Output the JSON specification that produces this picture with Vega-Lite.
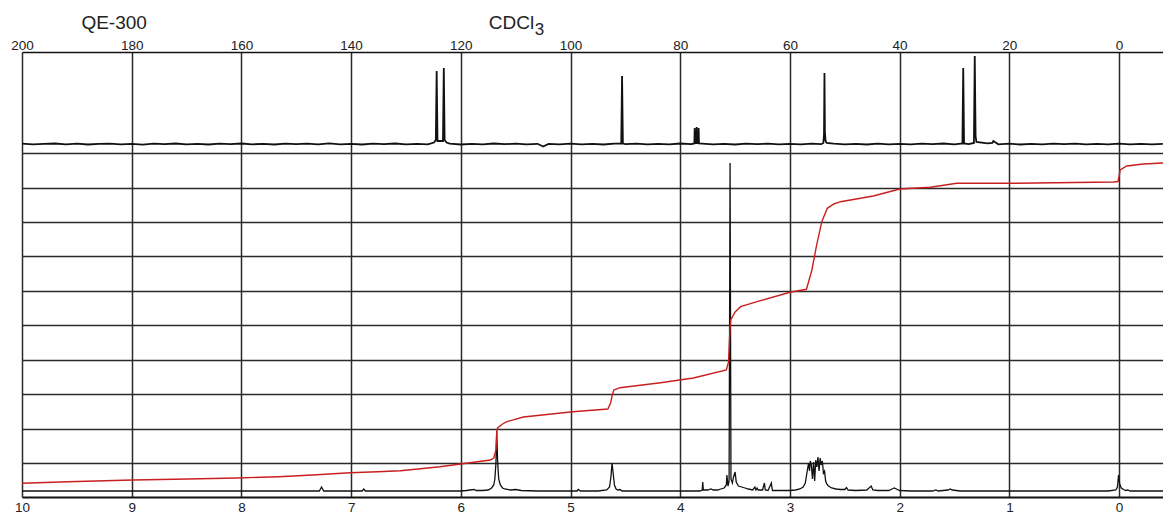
{
  "$schema": "https://vega.github.io/schema/vega-lite/v6.json",
  "width": 1141,
  "height": 445,
  "autosize": {"type": "none"},
  "padding": {"left": 22, "top": 52, "right": 0, "bottom": 17},
  "background": "white",
  "config": {
    "view": {"stroke": null},
    "font": "Liberation Sans",
    "axis": {"labelFont": "Liberation Sans", "labelColor": "#222", "labelFontSize": 13.5, "labelOverlap": false, "labelBound": false, "labelFlush": false}
  },
  "datasets": {
    "c13": [
      {"ppm": 200, "v": 0.3}, {"ppm": 198, "v": -0.4}, {"ppm": 196, "v": 0.2}, {"ppm": 194, "v": 0.5}, {"ppm": 192, "v": -0.3},
      {"ppm": 190, "v": 0.3}, {"ppm": 188, "v": -0.5}, {"ppm": 186, "v": 0.1}, {"ppm": 184, "v": 0.4}, {"ppm": 182, "v": -0.3},
      {"ppm": 180, "v": 0.2}, {"ppm": 178, "v": -0.6}, {"ppm": 176, "v": 0.4}, {"ppm": 174, "v": -0.2}, {"ppm": 172, "v": 0.5},
      {"ppm": 170, "v": -0.4}, {"ppm": 168, "v": 0.1}, {"ppm": 166, "v": -0.5}, {"ppm": 164, "v": 0.3}, {"ppm": 162, "v": -0.2},
      {"ppm": 160, "v": 0.5}, {"ppm": 158, "v": -0.3}, {"ppm": 156, "v": 0.2}, {"ppm": 154, "v": -0.5}, {"ppm": 152, "v": 0.4},
      {"ppm": 150, "v": -0.1}, {"ppm": 148, "v": 0.3}, {"ppm": 146, "v": -0.4}, {"ppm": 144, "v": 0.6}, {"ppm": 142, "v": -0.3},
      {"ppm": 140, "v": 0.2}, {"ppm": 138, "v": -0.5}, {"ppm": 136, "v": 0.4}, {"ppm": 134, "v": -0.2}, {"ppm": 132, "v": 0.5},
      {"ppm": 130, "v": -0.4}, {"ppm": 128, "v": 0.2}, {"ppm": 126, "v": -0.3},
      {"ppm": 124.9, "v": 1.5}, {"ppm": 124.55, "v": 4}, {"ppm": 124.4, "v": 73}, {"ppm": 124.25, "v": 3},
      {"ppm": 123.25, "v": 3}, {"ppm": 123.1, "v": 76}, {"ppm": 122.95, "v": 4}, {"ppm": 122.6, "v": 1.5},
      {"ppm": 122, "v": 0.4}, {"ppm": 120, "v": -0.5}, {"ppm": 118, "v": 0.2}, {"ppm": 116, "v": -0.3}, {"ppm": 114, "v": 0.5},
      {"ppm": 112, "v": -0.2}, {"ppm": 110, "v": 0.3}, {"ppm": 108, "v": -0.4}, {"ppm": 106, "v": 0.2}, {"ppm": 105, "v": -2.5},
      {"ppm": 104, "v": 0.1}, {"ppm": 102, "v": -0.4}, {"ppm": 100, "v": 0.4}, {"ppm": 98, "v": -0.3}, {"ppm": 96, "v": 0.2},
      {"ppm": 94, "v": -0.5}, {"ppm": 92, "v": 0.3},
      {"ppm": 90.75, "v": 0.5}, {"ppm": 90.6, "v": 68}, {"ppm": 90.45, "v": 0.5},
      {"ppm": 90, "v": -0.2}, {"ppm": 88, "v": 0.4}, {"ppm": 86, "v": -0.4}, {"ppm": 84, "v": 0.2}, {"ppm": 82, "v": -0.3},
      {"ppm": 80, "v": 0.5}, {"ppm": 78, "v": -0.2},
      {"ppm": 77.42, "v": 0.5}, {"ppm": 77.36, "v": 16}, {"ppm": 77.3, "v": 1}, {"ppm": 77.06, "v": 1}, {"ppm": 77.0, "v": 17},
      {"ppm": 76.94, "v": 1}, {"ppm": 76.7, "v": 1}, {"ppm": 76.64, "v": 16}, {"ppm": 76.58, "v": 0.5},
      {"ppm": 76, "v": 0.3}, {"ppm": 74, "v": -0.4}, {"ppm": 72, "v": 0.2}, {"ppm": 70, "v": -0.5}, {"ppm": 68, "v": 0.3},
      {"ppm": 66, "v": -0.2}, {"ppm": 64, "v": 0.4}, {"ppm": 62, "v": -0.3}, {"ppm": 60, "v": 0.2}, {"ppm": 58, "v": -0.4},
      {"ppm": 56, "v": 0.3}, {"ppm": 54.3, "v": -0.2},
      {"ppm": 53.9, "v": 1}, {"ppm": 53.78, "v": 10}, {"ppm": 53.7, "v": 71}, {"ppm": 53.62, "v": 12}, {"ppm": 53.5, "v": 3}, {"ppm": 53.3, "v": 1},
      {"ppm": 52, "v": 0.3}, {"ppm": 50, "v": -0.4}, {"ppm": 48, "v": 0.2}, {"ppm": 46, "v": -0.5}, {"ppm": 44, "v": 0.4},
      {"ppm": 42, "v": -0.3}, {"ppm": 40, "v": 0.2}, {"ppm": 38, "v": -0.4}, {"ppm": 36, "v": 0.3}, {"ppm": 34, "v": -0.2},
      {"ppm": 32, "v": 0.5}, {"ppm": 30, "v": -0.3},
      {"ppm": 28.55, "v": 0.5}, {"ppm": 28.4, "v": 76}, {"ppm": 28.25, "v": 0.5},
      {"ppm": 27.4, "v": -0.2},
      {"ppm": 26.45, "v": 1}, {"ppm": 26.3, "v": 88}, {"ppm": 26.15, "v": 8}, {"ppm": 26.0, "v": 2},
      {"ppm": 24, "v": 0.6}, {"ppm": 23.1, "v": 1}, {"ppm": 22.9, "v": 3}, {"ppm": 22.5, "v": 1.5}, {"ppm": 22, "v": -0.3},
      {"ppm": 20, "v": 0.3}, {"ppm": 18, "v": -0.5}, {"ppm": 16, "v": 0.2}, {"ppm": 14, "v": -0.3}, {"ppm": 12, "v": 0.4},
      {"ppm": 10, "v": -0.2}, {"ppm": 8, "v": 0.3}, {"ppm": 6, "v": -0.4}, {"ppm": 4, "v": 0.2}, {"ppm": 2, "v": -0.3},
      {"ppm": 0, "v": 0.4}, {"ppm": -2, "v": -0.3}, {"ppm": -4, "v": 0.2}, {"ppm": -6, "v": -0.4}, {"ppm": -8, "v": 0.2}
    ],
    "h1": [
      {"ppm": 10.0, "v": 0}, {"ppm": 9.5, "v": 0}, {"ppm": 9.0, "v": 0}, {"ppm": 8.5, "v": 0}, {"ppm": 8.0, "v": 0},
      {"ppm": 7.5, "v": 0}, {"ppm": 7.29, "v": 0}, {"ppm": 7.27, "v": 4}, {"ppm": 7.25, "v": 0}, {"ppm": 7.0, "v": 0},
      {"ppm": 6.9, "v": 0}, {"ppm": 6.885, "v": 2}, {"ppm": 6.87, "v": 0}, {"ppm": 6.5, "v": 0}, {"ppm": 6.0, "v": 0},
      {"ppm": 5.95, "v": 0.5}, {"ppm": 5.88, "v": 1.5}, {"ppm": 5.86, "v": 0.5}, {"ppm": 5.80, "v": 0.5}, {"ppm": 5.75, "v": 1},
      {"ppm": 5.72, "v": 3}, {"ppm": 5.70, "v": 6}, {"ppm": 5.69, "v": 12}, {"ppm": 5.68, "v": 28}, {"ppm": 5.673, "v": 60},
      {"ppm": 5.665, "v": 30}, {"ppm": 5.655, "v": 12}, {"ppm": 5.64, "v": 6}, {"ppm": 5.62, "v": 3}, {"ppm": 5.60, "v": 2},
      {"ppm": 5.55, "v": 1}, {"ppm": 5.50, "v": 1.5}, {"ppm": 5.45, "v": 0.5}, {"ppm": 5.3, "v": 0}, {"ppm": 5.0, "v": 0},
      {"ppm": 4.94, "v": 0}, {"ppm": 4.93, "v": 1.5}, {"ppm": 4.91, "v": 0}, {"ppm": 4.75, "v": 0}, {"ppm": 4.67, "v": 1},
      {"ppm": 4.645, "v": 4}, {"ppm": 4.632, "v": 14}, {"ppm": 4.622, "v": 28}, {"ppm": 4.612, "v": 18}, {"ppm": 4.60, "v": 6},
      {"ppm": 4.585, "v": 2}, {"ppm": 4.57, "v": 1}, {"ppm": 4.55, "v": 1.5}, {"ppm": 4.53, "v": 0}, {"ppm": 4.2, "v": 0},
      {"ppm": 3.82, "v": 0}, {"ppm": 3.80, "v": 1}, {"ppm": 3.795, "v": 9}, {"ppm": 3.79, "v": 1}, {"ppm": 3.75, "v": 1},
      {"ppm": 3.72, "v": 2}, {"ppm": 3.70, "v": 1}, {"ppm": 3.66, "v": 1}, {"ppm": 3.63, "v": 2}, {"ppm": 3.60, "v": 3},
      {"ppm": 3.58, "v": 6}, {"ppm": 3.575, "v": 16}, {"ppm": 3.565, "v": 5}, {"ppm": 3.555, "v": 10}, {"ppm": 3.546, "v": 328},
      {"ppm": 3.538, "v": 12}, {"ppm": 3.525, "v": 8}, {"ppm": 3.515, "v": 14}, {"ppm": 3.50, "v": 19}, {"ppm": 3.49, "v": 9},
      {"ppm": 3.47, "v": 5}, {"ppm": 3.44, "v": 4}, {"ppm": 3.41, "v": 3}, {"ppm": 3.38, "v": 2}, {"ppm": 3.34, "v": 1},
      {"ppm": 3.32, "v": 4}, {"ppm": 3.31, "v": 1}, {"ppm": 3.30, "v": 3}, {"ppm": 3.29, "v": 1}, {"ppm": 3.25, "v": 1},
      {"ppm": 3.233, "v": 8}, {"ppm": 3.225, "v": 1}, {"ppm": 3.20, "v": 0.5}, {"ppm": 3.17, "v": 8}, {"ppm": 3.16, "v": 0.5},
      {"ppm": 3.1, "v": 0.5}, {"ppm": 3.0, "v": 0.5}, {"ppm": 2.95, "v": 1}, {"ppm": 2.91, "v": 2}, {"ppm": 2.88, "v": 4},
      {"ppm": 2.86, "v": 8}, {"ppm": 2.85, "v": 15}, {"ppm": 2.84, "v": 22}, {"ppm": 2.83, "v": 28}, {"ppm": 2.822, "v": 20},
      {"ppm": 2.815, "v": 30}, {"ppm": 2.805, "v": 26}, {"ppm": 2.795, "v": 12}, {"ppm": 2.785, "v": 29}, {"ppm": 2.775, "v": 10},
      {"ppm": 2.765, "v": 31}, {"ppm": 2.755, "v": 24}, {"ppm": 2.745, "v": 34}, {"ppm": 2.735, "v": 20}, {"ppm": 2.725, "v": 33},
      {"ppm": 2.715, "v": 26}, {"ppm": 2.705, "v": 30}, {"ppm": 2.695, "v": 18}, {"ppm": 2.685, "v": 20}, {"ppm": 2.675, "v": 10},
      {"ppm": 2.665, "v": 7}, {"ppm": 2.65, "v": 5}, {"ppm": 2.62, "v": 3}, {"ppm": 2.58, "v": 2}, {"ppm": 2.54, "v": 1.5},
      {"ppm": 2.50, "v": 1.5}, {"ppm": 2.485, "v": 3.5}, {"ppm": 2.47, "v": 1}, {"ppm": 2.40, "v": 0.5}, {"ppm": 2.30, "v": 1},
      {"ppm": 2.26, "v": 5}, {"ppm": 2.245, "v": 1}, {"ppm": 2.2, "v": 0.5}, {"ppm": 2.10, "v": 0.5}, {"ppm": 2.07, "v": 2},
      {"ppm": 2.05, "v": 3}, {"ppm": 2.03, "v": 2}, {"ppm": 2.00, "v": 0.5}, {"ppm": 1.9, "v": 0}, {"ppm": 1.7, "v": 0},
      {"ppm": 1.67, "v": 1}, {"ppm": 1.65, "v": 0}, {"ppm": 1.56, "v": 1}, {"ppm": 1.54, "v": 2}, {"ppm": 1.52, "v": 1},
      {"ppm": 1.45, "v": 0}, {"ppm": 1.0, "v": 0}, {"ppm": 0.5, "v": 0}, {"ppm": 0.1, "v": 0}, {"ppm": 0.03, "v": 1},
      {"ppm": 0.015, "v": 4}, {"ppm": 0.005, "v": 16}, {"ppm": -0.005, "v": 7}, {"ppm": -0.02, "v": 3}, {"ppm": -0.04, "v": 1.5},
      {"ppm": -0.06, "v": 0.5}, {"ppm": -0.08, "v": 1}, {"ppm": -0.1, "v": 0}, {"ppm": -0.4, "v": 0}
    ],
    "integral": [
      {"ppm": 10.0, "v": 7.7}, {"ppm": 9.58, "v": 9.3}, {"ppm": 8.99, "v": 11}, {"ppm": 8.49, "v": 12}, {"ppm": 8.04, "v": 13},
      {"ppm": 7.66, "v": 14.3}, {"ppm": 7.35, "v": 16}, {"ppm": 7.01, "v": 18.3}, {"ppm": 6.76, "v": 19.3}, {"ppm": 6.55, "v": 20.3},
      {"ppm": 6.19, "v": 24.3}, {"ppm": 5.73, "v": 31}, {"ppm": 5.70, "v": 33}, {"ppm": 5.68, "v": 41}, {"ppm": 5.672, "v": 60},
      {"ppm": 5.665, "v": 63}, {"ppm": 5.62, "v": 67}, {"ppm": 5.58, "v": 69.3}, {"ppm": 5.43, "v": 74}, {"ppm": 4.98, "v": 79.3},
      {"ppm": 4.66, "v": 82}, {"ppm": 4.635, "v": 88}, {"ppm": 4.62, "v": 96}, {"ppm": 4.605, "v": 101}, {"ppm": 4.55, "v": 103.3},
      {"ppm": 4.18, "v": 108.3}, {"ppm": 3.88, "v": 113}, {"ppm": 3.58, "v": 121}, {"ppm": 3.56, "v": 129}, {"ppm": 3.548, "v": 160},
      {"ppm": 3.54, "v": 171}, {"ppm": 3.50, "v": 179}, {"ppm": 3.45, "v": 184.3}, {"ppm": 3.30, "v": 189.3}, {"ppm": 3.00, "v": 198.7},
      {"ppm": 2.85, "v": 201.7}, {"ppm": 2.80, "v": 221}, {"ppm": 2.76, "v": 244.3}, {"ppm": 2.71, "v": 269.3}, {"ppm": 2.66, "v": 282.7},
      {"ppm": 2.60, "v": 287}, {"ppm": 2.54, "v": 289.3}, {"ppm": 2.24, "v": 295}, {"ppm": 2.00, "v": 302}, {"ppm": 1.72, "v": 303.7},
      {"ppm": 1.48, "v": 307.7}, {"ppm": 0.99, "v": 307.7}, {"ppm": 0.05, "v": 309}, {"ppm": 0.01, "v": 309.5}, {"ppm": 0.0, "v": 315},
      {"ppm": -0.01, "v": 321}, {"ppm": -0.07, "v": 325}, {"ppm": -0.22, "v": 327}, {"ppm": -0.40, "v": 328}
    ]
  },
  "layer": [
    {
      "encoding": {
        "x": {
          "field": "ppm", "type": "quantitative",
          "scale": {"domain": [10, -0.4], "nice": false, "zero": false},
          "axis": {"orient": "bottom", "values": [0, 1, 2, 3, 4, 5, 6, 7, 8, 9, 10], "format": "d", "title": null, "grid": true, "gridColor": "#2a2a2a", "gridWidth": 1.5, "ticks": false, "domain": true, "domainColor": "#111", "domainWidth": 1.8, "labelPadding": 3}
        },
        "y": {
          "field": "v", "type": "quantitative",
          "scale": {"domain": [-6, 439], "nice": false, "zero": false},
          "axis": {"orient": "left", "values": [28, 62.4, 96.9, 131.3, 165.8, 200.2, 234.6, 269.1, 303.5, 338], "title": null, "labels": false, "ticks": false, "domain": false, "grid": true, "gridColor": "#2a2a2a", "gridWidth": 1.5}
        }
      },
      "layer": [
        {"data": {"name": "h1"}, "mark": {"type": "line", "color": "#111", "strokeWidth": 1.3, "interpolate": "linear"}},
        {"data": {"name": "integral"}, "mark": {"type": "line", "color": "#c8201e", "strokeWidth": 1.4, "interpolate": "linear"}}
      ]
    },
    {
      "layer": [
        {
          "data": {"name": "c13"},
          "mark": {"type": "line", "color": "#111", "strokeWidth": 1.8},
          "encoding": {
            "x": {
              "field": "ppm", "type": "quantitative",
              "scale": {"domain": [200, -8.02], "nice": false, "zero": false},
              "axis": {"orient": "top", "values": [0, 20, 40, 60, 80, 100, 120, 140, 160, 180, 200], "format": "d", "title": null, "grid": false, "ticks": false, "domain": true, "domainColor": "#111", "domainWidth": 1.5, "labelPadding": 0}
            },
            "y": {"field": "v", "type": "quantitative", "scale": {"domain": [-353, 92], "nice": false, "zero": false}, "axis": null}
          }
        },
        {
          "data": {"values": [{}]},
          "mark": {"type": "text", "align": "center", "baseline": "alphabetic", "fontSize": 19, "color": "#222", "font": "Liberation Sans"},
          "encoding": {
            "x": {"datum": 183.2, "type": "quantitative", "scale": {"domain": [200, -8.02], "nice": false, "zero": false}},
            "y": {"datum": 115, "type": "quantitative", "scale": {"domain": [-353, 92], "nice": false, "zero": false}, "axis": null},
            "text": {"value": "QE-300"}
          }
        },
        {
          "data": {"values": [{}]},
          "mark": {"type": "text", "align": "left", "baseline": "alphabetic", "fontSize": 19, "color": "#222", "font": "Liberation Sans"},
          "encoding": {
            "x": {"datum": 114.9, "type": "quantitative", "scale": {"domain": [200, -8.02], "nice": false, "zero": false}},
            "y": {"datum": 115, "type": "quantitative", "scale": {"domain": [-353, 92], "nice": false, "zero": false}, "axis": null},
            "text": {"value": "CDCl"}
          }
        },
        {
          "data": {"values": [{}]},
          "mark": {"type": "text", "align": "left", "baseline": "alphabetic", "fontSize": 17, "color": "#222", "font": "Liberation Sans"},
          "encoding": {
            "x": {"datum": 106.5, "type": "quantitative", "scale": {"domain": [200, -8.02], "nice": false, "zero": false}},
            "y": {"datum": 109, "type": "quantitative", "scale": {"domain": [-353, 92], "nice": false, "zero": false}, "axis": null},
            "text": {"value": "3"}
          }
        }
      ]
    }
  ],
  "resolve": {"scale": {"x": "independent", "y": "independent"}, "axis": {"x": "independent", "y": "independent"}}
}
